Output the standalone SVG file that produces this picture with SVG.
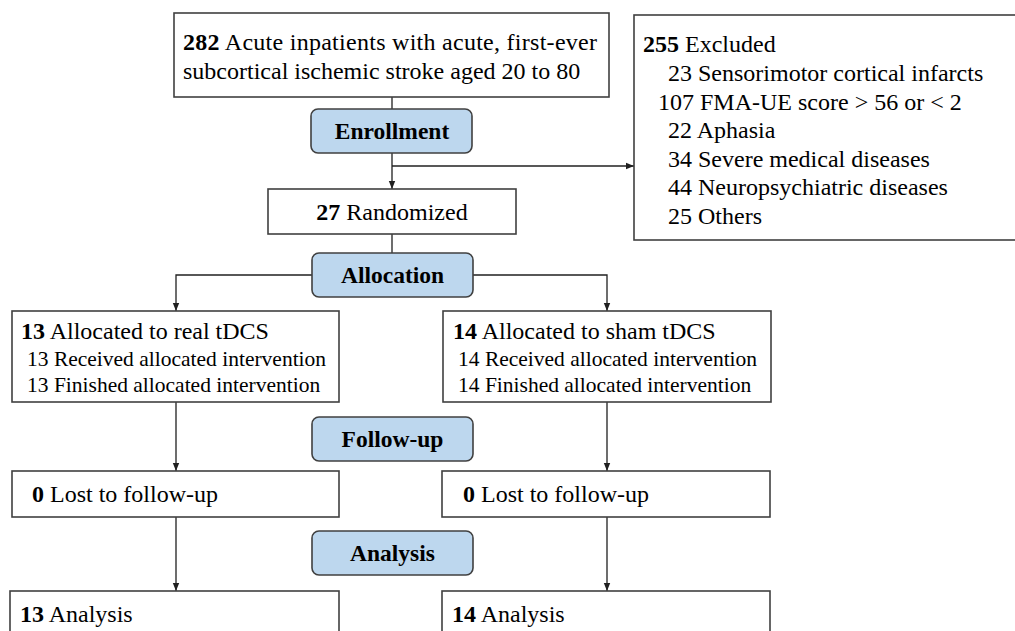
<svg xmlns="http://www.w3.org/2000/svg" width="1015" height="631" viewBox="0 0 1015 631">
<style>
.box{fill:#fff;stroke:#404040;stroke-width:1.6}
.stage{fill:#bdd7ee;stroke:#404040;stroke-width:1.6}
.t{font-family:"Liberation Serif","Times New Roman",serif;font-size:24px;fill:#000}
.s{font-family:"Liberation Serif","Times New Roman",serif;font-size:21.5px;fill:#000}
.b{font-weight:bold}
.lbl{font-family:"Liberation Serif","Times New Roman",serif;font-size:23.5px;font-weight:bold;fill:#000;text-anchor:middle}
.c{fill:none;stroke:#202020;stroke-width:1.3}
</style>
<defs>
<marker id="ah" markerWidth="8" markerHeight="8" refX="8" refY="4" orient="auto" markerUnits="userSpaceOnUse">
<path d="M0,0.8 L8,4 L0,7.2 Z" fill="#202020"/>
</marker>
</defs>
<rect width="1015" height="631" fill="#fff"/>
<g id="connectors">
<path class="c" d="M392,97 V109"/>
<path class="c" d="M392,153 V189" marker-end="url(#ah)"/>
<path class="c" d="M392,166 H634" marker-end="url(#ah)"/>
<path class="c" d="M392,234 V253"/>
<path class="c" d="M312,275 H176 V311" marker-end="url(#ah)"/>
<path class="c" d="M473,275 H607 V311" marker-end="url(#ah)"/>
<path class="c" d="M176,402 V471" marker-end="url(#ah)"/>
<path class="c" d="M176,517 V591" marker-end="url(#ah)"/>
<path class="c" d="M607,402 V471" marker-end="url(#ah)"/>
<path class="c" d="M607,517 V591" marker-end="url(#ah)"/>
</g>
<g id="screened">
<rect class="box" x="174" y="13" width="435" height="84"/>
<text class="t" x="183" y="50" textLength="414" lengthAdjust="spacing"><tspan class="b">282</tspan> Acute inpatients with acute, first-ever</text>
<text class="t" x="183" y="79">subcortical ischemic stroke aged 20 to 80</text>
</g>
<g id="excluded">
<rect class="box" x="634" y="15" width="390" height="225"/>
<text class="t" x="643" y="52"><tspan class="b">255</tspan> Excluded</text>
<text class="t" x="668" y="81">23 Sensorimotor cortical infarcts</text>
<text class="t" x="658" y="110">107 FMA-UE score &gt; 56 or &lt; 2</text>
<text class="t" x="668" y="138">22 Aphasia</text>
<text class="t" x="668" y="167">34 Severe medical diseases</text>
<text class="t" x="668" y="195">44 Neuropsychiatric diseases</text>
<text class="t" x="668" y="224">25 Others</text>
</g>
<g id="enrollment">
<rect class="stage" x="311" y="109" width="161" height="44" rx="7"/>
<text class="lbl" x="392" y="139">Enrollment</text>
</g>
<g id="randomized">
<rect class="box" x="268" y="189" width="248" height="45"/>
<text class="t" x="392" y="220" text-anchor="middle"><tspan class="b">27</tspan> Randomized</text>
</g>
<g id="allocation">
<rect class="stage" x="312" y="253" width="161" height="44" rx="7"/>
<text class="lbl" x="392.5" y="283">Allocation</text>
</g>
<g id="real">
<rect class="box" x="12" y="311" width="327" height="91"/>
<text class="t" x="21" y="339"><tspan class="b">13</tspan> Allocated to real tDCS</text>
<text class="s" x="27" y="366">13 Received allocated intervention</text>
<text class="s" x="27" y="392">13 Finished allocated intervention</text>
</g>
<g id="sham">
<rect class="box" x="443" y="311" width="328" height="91"/>
<text class="t" x="453" y="339"><tspan class="b">14</tspan> Allocated to sham tDCS</text>
<text class="s" x="458" y="366">14 Received allocated intervention</text>
<text class="s" x="458" y="392">14 Finished allocated intervention</text>
</g>
<g id="followup">
<rect class="stage" x="312" y="417" width="161" height="44" rx="7"/>
<text class="lbl" x="392.5" y="447">Follow-up</text>
</g>
<g id="lost-real">
<rect class="box" x="12" y="471" width="327" height="46"/>
<text class="t" x="32" y="502"><tspan class="b">0</tspan> Lost to follow-up</text>
</g>
<g id="lost-sham">
<rect class="box" x="442" y="471" width="328" height="46"/>
<text class="t" x="463" y="502"><tspan class="b">0</tspan> Lost to follow-up</text>
</g>
<g id="analysis">
<rect class="stage" x="312" y="531" width="161" height="44" rx="7"/>
<text class="lbl" x="392.5" y="561">Analysis</text>
</g>
<g id="analysis-real">
<rect class="box" x="10" y="591" width="329" height="60"/>
<text class="t" x="20" y="622"><tspan class="b">13</tspan> Analysis</text>
</g>
<g id="analysis-sham">
<rect class="box" x="442" y="591" width="328" height="60"/>
<text class="t" x="452" y="622"><tspan class="b">14</tspan> Analysis</text>
</g>
</svg>
